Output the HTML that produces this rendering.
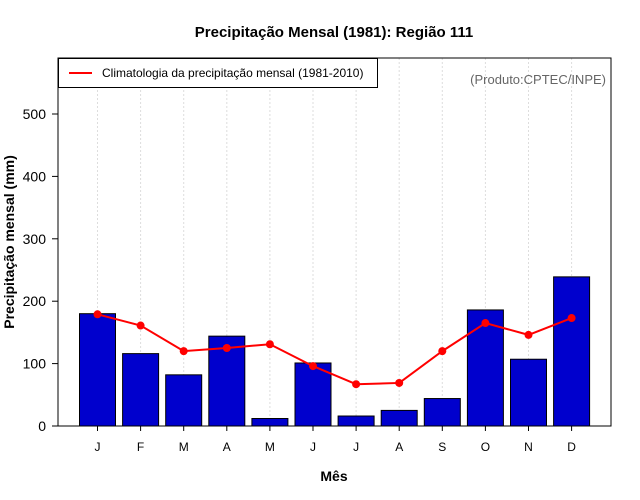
<!DOCTYPE html>
<html><head><meta charset="utf-8"><style>
body{margin:0;background:#fff;}
svg{display:block;font-family:"Liberation Sans",sans-serif;}
</style></head><body>
<svg id="c" width="640" height="500"></svg>
<script>
const months=["J","F","M","A","M","J","J","A","S","O","N","D"];
const precip=[180,116,82,144,12,101,16,25,44,186,107,239];
const clim=[179,161,120,125,131,96,67,69,120,165,146,173];
const yTicks=[0,100,200,300,400,500];
const NS="http://www.w3.org/2000/svg";
const svg=document.getElementById('c');
const L=58,R=611,T=58,B=426;
const y=v=>426-v*0.624;
const x=i=>97.5+i*43.1;
function mk(t,a,p){const e=document.createElementNS(NS,t);for(const k in a)e.setAttribute(k,a[k]);(p||svg).appendChild(e);return e;}
// grid
months.forEach((m,i)=>{const g=mk('line',{x1:x(i),x2:x(i),y1:T,y2:B,stroke:'#ddd','stroke-dasharray':'2,2'});

});
// bars
precip.forEach((v,i)=>{const r=mk('rect',{x:x(i)-18,y:y(v),width:36,height:B-y(v),fill:'#0000cd',stroke:'#000','stroke-width':1});

});
// line
const pl=mk('polyline',{points:clim.map((v,i)=>x(i)+','+y(v)).join(' '),fill:'none',stroke:'#f00','stroke-width':2});


clim.forEach((v,i)=>{const c=mk('circle',{cx:x(i),cy:y(v),r:4,fill:'#f00'});

});
// frame
const fr=mk('rect',{x:L,y:T,width:R-L,height:B-T,fill:'none',stroke:'#000'});


// y axis
yTicks.forEach(v=>{mk('line',{x1:L-6,x2:L,y1:y(v),y2:y(v),stroke:'#000'});
const t=mk('text',{x:L-12,y:y(v)+5,'text-anchor':'end','font-size':14});t.textContent=v;

});
months.forEach((m,i)=>{mk('line',{x1:x(i),x2:x(i),y1:B,y2:B+5,stroke:'#000'});
const t=mk('text',{x:x(i),y:451,'text-anchor':'middle','font-size':12});t.textContent=m;

});
</script>
<svg width="0" height="0"></svg>
<div style="position:absolute;left:0;top:0;width:640px;height:500px;pointer-events:none">
<svg width="640" height="500" style="font-family:'Liberation Sans',sans-serif">
<text x="334" y="37" text-anchor="middle" font-size="15" font-weight="bold">Precipitação Mensal (1981): Região 111</text>
<text x="334" y="481" text-anchor="middle" font-size="14" font-weight="bold">Mês</text>
<text transform="translate(14,242) rotate(-90)" text-anchor="middle" font-size="14" font-weight="bold">Precipitação mensal (mm)</text>
<text x="606" y="84" text-anchor="end" font-size="13" fill="#666">(Produto:CPTEC/INPE)</text>
<g>
<rect x="58.5" y="58.5" width="319" height="29" fill="#fff" stroke="#000"/>
<line x1="69" x2="92" y1="73" y2="73" stroke="#f00" stroke-width="2"/>
<text x="102" y="77" font-size="12">Climatologia da precipitação mensal (1981-2010)</text>
</g>
</svg></div>
</body></html>
